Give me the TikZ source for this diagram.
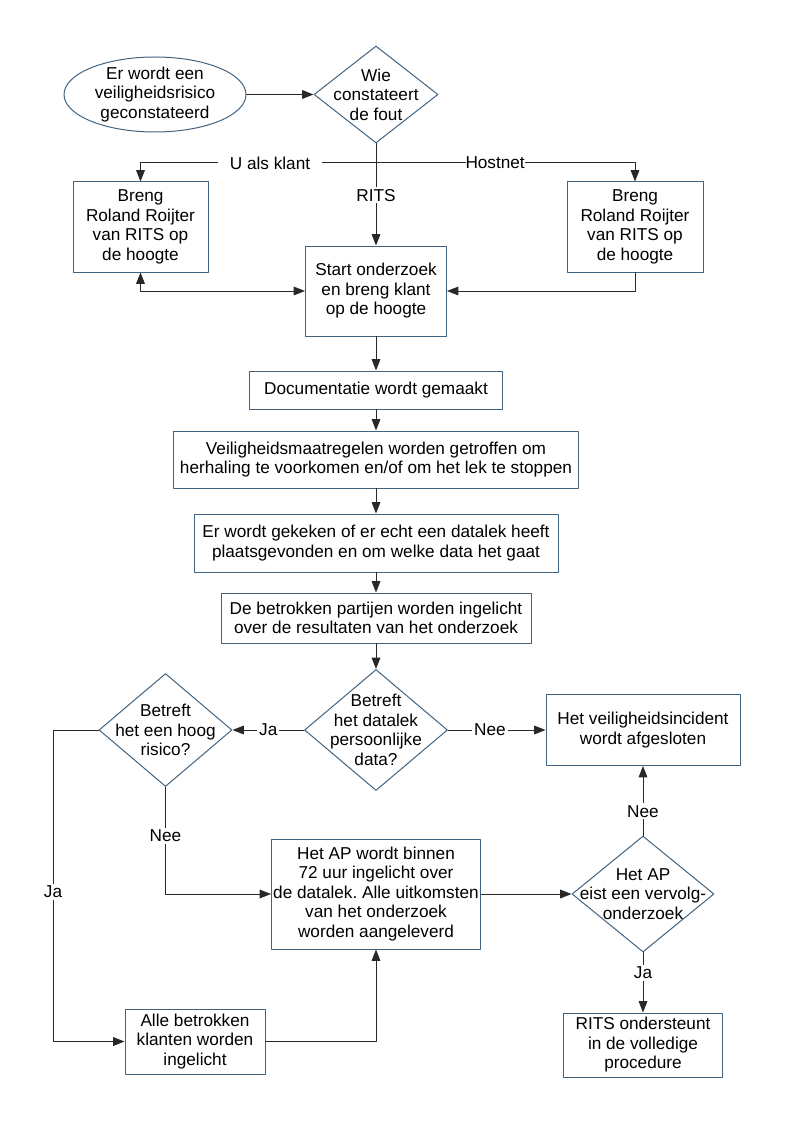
\documentclass[tikz,border=0pt]{standalone}
\usepackage{fontspec}
\setmainfont{Liberation Sans}
\usepackage{tikz}
\usetikzlibrary{arrows.meta,shapes.geometric}
\frenchspacing

\definecolor{randblauw}{RGB}{66,99,128}
\definecolor{lijn}{RGB}{40,40,40}

\tikzset{
  blok/.style={draw=randblauw,line width=0.75pt,rectangle,align=center,inner sep=1pt},
  ruit/.style={draw=randblauw,line width=0.75pt,diamond,inner sep=0pt},
  ovaal/.style={draw=randblauw,line width=0.75pt,ellipse,inner sep=0pt},
  verbinding/.style={draw=lijn,line width=0.75pt},
  tekst/.style={fill=white,inner sep=1.5pt}
}

\begin{document}
\begin{tikzpicture}[line cap=round,line join=round,>={Triangle[length=8.5pt,width=6.5pt]},x=0.75pt,y=-0.75pt,font=\fontsize{12.9}{14.6}\selectfont]
\useasboundingbox (0,0) rectangle (794,1123);
% bovenste rij
\node[ovaal,minimum width=136.5pt,minimum height=56.25pt,label={[align=center]center:{Er wordt een\\veiligheidsrisico\\geconstateerd}}] (melding) at (155,94.5) {};
\node[ruit,minimum width=93pt,minimum height=72.75pt,label={[align=center]center:{Wie\\constateert\\de fout}}] (wie) at (376,94.5) {};
\node[blok,minimum width=101.25pt,minimum height=67.5pt] (links) at (140.5,227) {Breng\\Roland Roijter\\van RITS op\\de hoogte};
\node[blok,minimum width=102pt,minimum height=67.5pt] (rechts) at (635,227) {Breng\\Roland Roijter\\van RITS op\\de hoogte};
\node[blok,minimum width=105.75pt,minimum height=67.5pt] (startbox) at (376,291) {Start onderzoek\\en breng klant\\op de hoogte};
% middenkolom
\node[blok,minimum width=189.75pt,minimum height=28.5pt] (doc) at (376,390) {Documentatie wordt gemaakt};
\node[blok,minimum width=303.75pt,minimum height=42.75pt] (maatr) at (376,459.5) {Veiligheidsmaatregelen worden getroffen om\\herhaling te voorkomen en/of om het lek te stoppen};
\node[blok,minimum width=273pt,minimum height=43.5pt] (datalek) at (376,543) {Er wordt gekeken of er echt een datalek heeft\\plaatsgevonden en om welke data het gaat};
\node[blok,minimum width=232.5pt,minimum height=37.5pt] (partijen) at (376,618) {De betrokken partijen worden ingelicht\\over de resultaten van het onderzoek};
% beslissingen
\node[ruit,minimum width=107.25pt,minimum height=90.75pt,label={[align=center]center:{Betreft\\het datalek\\persoonlijke\\data?}}] (dlk) at (376,730) {};
\node[ruit,minimum width=99.75pt,minimum height=84.75pt,label={[align=center]center:{Betreft\\het een hoog\\risico?}}] (hoog) at (165.5,730) {};
\node[blok,minimum width=145.5pt,minimum height=53.25pt] (afgesloten) at (643,730) {Het veiligheidsincident\\wordt afgesloten};
\node[blok,minimum width=156.75pt,minimum height=82.5pt] (ap) at (376,894) {Het AP wordt binnen\\72 uur ingelicht over\\de datalek. Alle uitkomsten\\van het onderzoek\\worden aangeleverd};
\node[ruit,minimum width=106.5pt,minimum height=87pt,label={[align=center]center:{Het AP\\eist een vervolg-\\onderzoek}}] (vervolg) at (643,894) {};
\node[blok,minimum width=105pt,minimum height=48.75pt] (alle) at (195,1041.5) {Alle betrokken\\klanten worden\\ingelicht};
\node[blok,minimum width=119.25pt,minimum height=48pt] (rits) at (643,1045) {RITS ondersteunt\\in de volledige\\procedure};
% verbindingen
\coordinate (splitsing) at (376,163);
\coordinate (jahoek) at (53,730);
\draw[verbinding,->] (melding.east) -- (wie.west);
\draw[verbinding] (wie.south) -- (splitsing);
\draw[verbinding,->] (splitsing) -| (links.north) node[tekst,pos=0.225,inner xsep=9pt] {U als klant};
\draw[verbinding,->] (splitsing) -| (rechts.north) node[tekst,pos=0.23,inner xsep=0pt] {Hostnet};
\draw[verbinding,->] (splitsing) -- (startbox.north) node[tekst,pos=0.39] {RITS};
\draw[verbinding,<->] (links.south) |- (startbox.west);
\draw[verbinding,->] (rechts.south) |- (startbox.east);
\draw[verbinding,->] (startbox) -- (doc);
\draw[verbinding,->] (doc) -- (maatr);
\draw[verbinding,->] (maatr) -- (datalek);
\draw[verbinding,->] (datalek) -- (partijen);
\draw[verbinding,->] (partijen.south) -- (dlk.north);
\draw[verbinding,->] (dlk.west) -- (hoog.east) node[tekst,midway] {Ja};
\draw[verbinding,->] (dlk.east) -- (afgesloten.west) node[tekst,pos=0.43] {Nee};
\draw[verbinding,->] (hoog.west) -- (jahoek) |- (alle.west) node[tekst,pos=0.26] {Ja};
\draw[verbinding,->] (hoog.south) |- (ap.west) node[tekst,pos=0.227] {Nee};
\draw[verbinding,->] (alle.east) -| (ap.south);
\draw[verbinding,->] (ap.east) -- (vervolg.west);
\draw[verbinding,->] (vervolg.north) -- (afgesloten.south) node[tekst,pos=0.35] {Nee};
\draw[verbinding,->] (vervolg.south) -- (rits.north) node[tekst,pos=0.34] {Ja};
\end{tikzpicture}
\end{document}
